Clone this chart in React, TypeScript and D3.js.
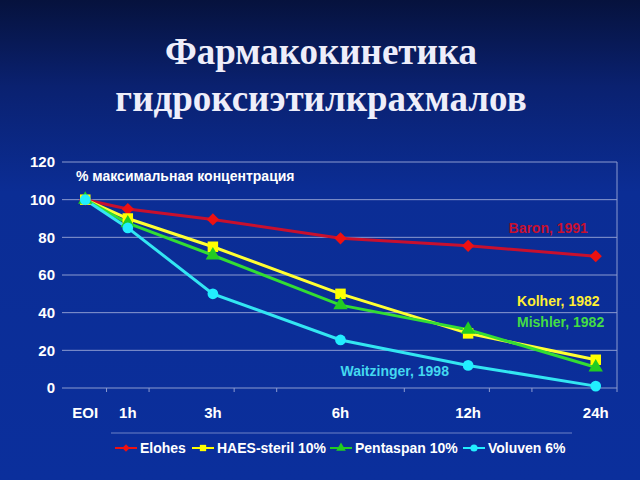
import React, { useEffect, useRef } from 'react';
import * as d3 from 'd3';

// categories on the x axis (blank slots keep the time spacing like the original Excel chart)
const categories = ['EOI', '1h', '', '3h', '', '', '6h', '', '', '12h', '', '', '24h'];
const timePoints = ['EOI', '1h', '3h', '6h', '12h', '24h'];
const yTicks = [0, 20, 40, 60, 80, 100, 120];
const tickBoundaries = [1, 2, 4, 5, 8, 10, 11, 13];

const elohes = [100, 95, 89.5, 79.5, 75.5, 70];
const haesSteril = [100, 90, 75, 50, 29, 15];
const pentaspan = [100, 87.5, 70.5, 44, 31, 11];
const voluven = [100, 85, 50, 25.5, 12, 1];

const seriesNames = ['Elohes', 'HAES-steril 10%', 'Pentaspan 10%', 'Voluven 6%'];
const seriesColors = ['#c8102e', '#ffff33', '#33dd33', '#33e6f2'];
const markerColors = ['#ee1111', '#ffff00', '#22cc22', '#22eeff'];
const markerShapes = [d3.symbolSquare, d3.symbolSquare, d3.symbolTriangle, d3.symbolCircle];
const markerRotate = [45, 0, 0, 0];

// label positions in category units (x) and data units (y)
const annotations = [
  { text: 'Baron, 1991', color: '#c8102e', x: 10.45, y: 82.5 },
  { text: 'Kolher, 1982', color: '#ffee33', x: 10.65, y: 43.5 },
  { text: 'Mishler, 1982', color: '#44dd44', x: 10.65, y: 32.5 },
  { text: 'Waitzinger, 1998', color: '#44d8f0', x: 6.5, y: 6.3 },
];

const W = 640;
const H = 480;

const App = () => {
  const ref = useRef<SVGSVGElement>(null);

  useEffect(() => {
    const svg = d3.select(ref.current);
    svg.selectAll('*').remove();

    const defs = svg.append('defs');
    const grad = defs.append('linearGradient')
      .attr('id', 'bg').attr('x1', 0).attr('y1', 0).attr('x2', 0).attr('y2', 1);
    grad.append('stop').attr('offset', '0%').attr('stop-color', '#06123d');
    grad.append('stop').attr('offset', '18%').attr('stop-color', '#0a2170');
    grad.append('stop').attr('offset', '40%').attr('stop-color', '#0b2d95');
    grad.append('stop').attr('offset', '100%').attr('stop-color', '#0b2f9c');

    svg.append('rect').attr('width', W).attr('height', H).attr('fill', 'url(#bg)');

    // title
    const title = svg.append('g')
      .attr('font-family', '"Liberation Serif", "DejaVu Serif", serif')
      .attr('font-weight', 'bold')
      .attr('font-size', 37)
      .attr('fill', '#eeeefa')
      .attr('text-anchor', 'middle');
    title.append('text').attr('x', 321).attr('y', 64).text('Фармакокинетика');
    title.append('text').attr('x', 321).attr('y', 111).text('гидроксиэтилкрахмалов');

    const left = 64;
    const right = 617;
    const top = 162;
    const bottom = 388;

    const x = d3.scaleBand<number>()
      .domain(d3.range(categories.length))
      .range([left, right]);
    const xLin = d3.scaleLinear().domain([0, categories.length]).range([left, right]);
    const y = d3.scaleLinear().domain([0, 120]).range([bottom, top]);
    const xc = (i: number) => (x(i) ?? 0) + x.bandwidth() / 2;
    const idx = timePoints.map(t => categories.indexOf(t));

    const font = '"Liberation Sans", Arial, sans-serif';
    const grid = '#8c9bd0';

    // gridlines
    svg.append('g')
      .selectAll('line')
      .data(yTicks)
      .enter().append('line')
      .attr('x1', left - 2)
      .attr('x2', right)
      .attr('y1', d => y(d))
      .attr('y2', d => y(d))
      .attr('stroke', grid)
      .attr('stroke-width', 1);

    // right border of plot area
    svg.append('line')
      .attr('x1', right).attr('x2', right)
      .attr('y1', top).attr('y2', bottom)
      .attr('stroke', grid);

    // x ticks
    svg.append('g')
      .selectAll('line')
      .data(tickBoundaries)
      .enter().append('line')
      .attr('x1', d => xLin(d))
      .attr('x2', d => xLin(d))
      .attr('y1', bottom)
      .attr('y2', bottom + 4)
      .attr('stroke', grid);

    // y labels
    svg.append('g')
      .attr('font-family', font)
      .attr('font-weight', 'bold')
      .attr('font-size', 15)
      .attr('fill', '#ffffff')
      .attr('text-anchor', 'end')
      .selectAll('text')
      .data(yTicks)
      .enter().append('text')
      .attr('x', 55)
      .attr('y', d => y(d))
      .attr('dy', '0.36em')
      .text(d => d);

    // x labels
    svg.append('g')
      .attr('font-family', font)
      .attr('font-weight', 'bold')
      .attr('font-size', 15)
      .attr('fill', '#ffffff')
      .attr('text-anchor', 'middle')
      .selectAll('text')
      .data(categories.map((c, i) => ({ c, i })).filter(d => d.c !== ''))
      .enter().append('text')
      .attr('x', d => xc(d.i))
      .attr('y', 418)
      .text(d => d.c);

    // axis title inside plot
    svg.append('text')
      .attr('x', 76).attr('y', 181)
      .attr('font-family', font)
      .attr('font-weight', 'bold')
      .attr('font-size', 14)
      .attr('fill', '#ffffff')
      .text('% максимальная концентрация');

    const allSeries = [elohes, haesSteril, pentaspan, voluven];
    const line = d3.line<number>()
      .x((_, i) => xc(idx[i]))
      .y(d => y(d));

    allSeries.forEach((vals, s) => {
      svg.append('path')
        .datum(vals)
        .attr('fill', 'none')
        .attr('stroke', seriesColors[s])
        .attr('stroke-width', 3)
        .attr('d', line);
    });

    allSeries.forEach((vals, s) => {
      const size = s === 0 ? 75 : s === 1 ? 110 : 90;
      svg.append('g')
        .selectAll('path')
        .data(vals)
        .enter().append('path')
        .attr('transform', (d, i) => `translate(${xc(idx[i])},${y(d)}) rotate(${markerRotate[s]})`)
        .attr('d', d3.symbol().type(markerShapes[s]).size(size)())
        .attr('fill', markerColors[s]);
    });

    // study annotations
    svg.append('g')
      .attr('font-family', font)
      .attr('font-weight', 'bold')
      .attr('font-size', 14)
      .selectAll('text')
      .data(annotations)
      .enter().append('text')
      .attr('x', d => xLin(d.x))
      .attr('y', d => y(d.y))
      .attr('fill', d => d.color)
      .text(d => d.text);

    // legend
    svg.append('line')
      .attr('x1', 111).attr('x2', 572)
      .attr('y1', 433).attr('y2', 433)
      .attr('stroke', '#6f82c6');

    const legendX = [115, 192, 330, 463];
    const lg = svg.append('g')
      .attr('font-family', font)
      .attr('font-weight', 'bold')
      .attr('font-size', 14);
    seriesNames.forEach((name, s) => {
      const g = lg.append('g').attr('transform', `translate(${legendX[s]},448)`);
      g.append('line').attr('x1', 0).attr('x2', 22).attr('y1', 0).attr('y2', 0)
        .attr('stroke', markerColors[s]).attr('stroke-width', 2);
      g.append('path')
        .attr('transform', `translate(11,0) rotate(${markerRotate[s]})`)
        .attr('d', d3.symbol().type(markerShapes[s]).size(s === 0 ? 28 : 40)())
        .attr('fill', markerColors[s]);
      g.append('text').attr('x', 25).attr('dy', '0.36em').attr('fill', '#ffffff').text(name);
    });
  }, []);

  return (
    <svg ref={ref} width={W} height={H} style={{ position: 'absolute', left: 0, top: 0 }}></svg>
  );
};

export default App;
